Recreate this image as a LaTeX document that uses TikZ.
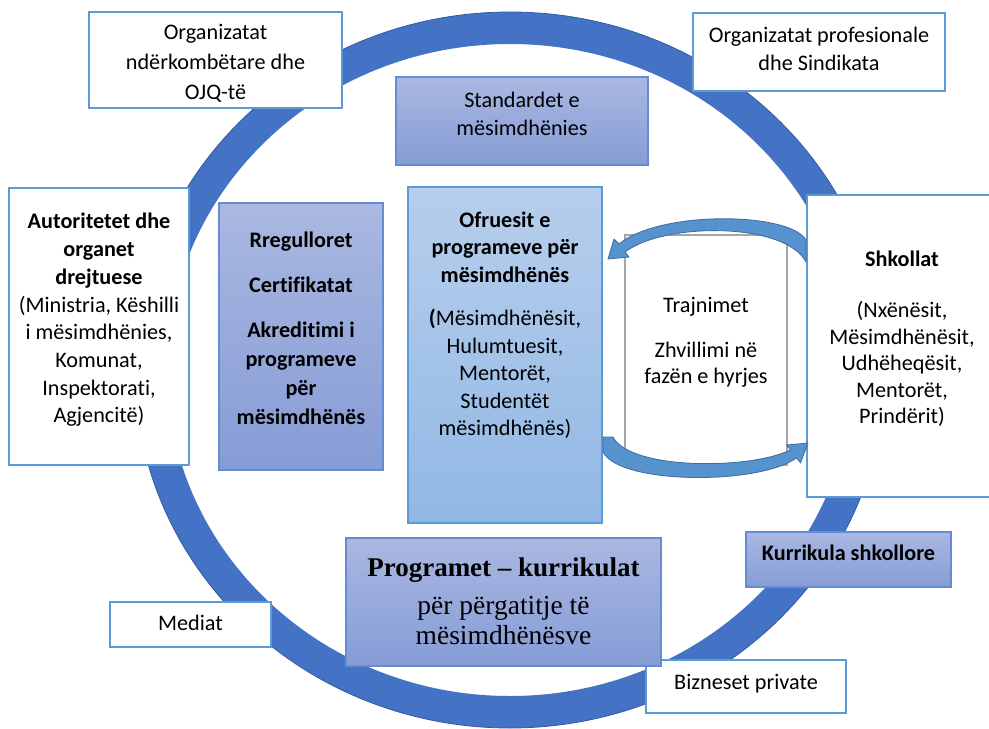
\documentclass[tikz,border=0pt]{standalone}
\usepackage{fontspec}
\setmainfont[Ligatures=NoCommon]{Carlito}
\newfontfamily\tnr{Liberation Serif}
\usetikzlibrary{calc}
\definecolor{ringblue}{RGB}{68,114,196}
\definecolor{ringdark}{RGB}{50,90,160}
\definecolor{edgeblue}{RGB}{91,155,213}
\definecolor{gradtop}{RGB}{170,184,225}
\definecolor{gradbot}{RGB}{134,156,214}
\definecolor{gradedge}{RGB}{100,140,210}
\definecolor{ltop}{RGB}{183,206,236}
\definecolor{lbot}{RGB}{145,184,229}
\definecolor{arrfill}{RGB}{86,146,205}
\definecolor{arredge}{RGB}{60,108,160}
\definecolor{grayedge}{RGB}{166,166,166}
\begin{document}
\begin{tikzpicture}[x=1pt,y=-1pt,
  whitebox/.style={rectangle, draw=edgeblue, line width=1.5pt, fill=white, inner sep=0pt},
  gradbox/.style={rectangle, draw=gradedge, line width=1.2pt, top color=gradtop, bottom color=gradbot, inner sep=0pt},
  lightbox/.style={rectangle, draw=edgeblue, line width=1.2pt, top color=ltop, bottom color=lbot, inner sep=0pt},
  graybox/.style={rectangle, draw=grayedge, line width=1.5pt, fill=white, inner sep=0pt},
  txt/.style={align=center, inner sep=0pt, font=\fontsize{22.2}{28}\selectfont},
  curvedarrow/.style={fill=arrfill, draw=arredge, line width=0.8pt, line join=round}
]
\useasboundingbox (0,0) rectangle (989,729);
\fill[white] (0,0) rectangle (989,729);

% ring
\draw[ringblue, line width=32pt] (510,370) ellipse [x radius=359pt, y radius=342pt];
\draw[ringdark, line width=0.8pt] (510,370) ellipse [x radius=375pt, y radius=358pt];

% boxes
\node[whitebox, minimum width=253pt, minimum height=96pt] (b1) at (215.5,60) {};
\node[whitebox, minimum width=252pt, minimum height=78pt] (b2) at (819,52) {};
\node[gradbox, minimum width=252pt, minimum height=88pt] (b3) at (522,121) {};
\node[whitebox, minimum width=180pt, minimum height=277pt] (b4) at (99,326.5) {};
\node[gradbox, minimum width=164pt, minimum height=267pt] (b5) at (301,336.5) {};
\node[lightbox, minimum width=194pt, minimum height=336pt] (b6) at (505,355) {};
\node[graybox, minimum width=162pt, minimum height=230pt] (b7) at (706,350) {};
\node[whitebox, minimum width=190pt, minimum height=302pt] (b8) at (902,346) {};
\node[gradbox, minimum width=205pt, minimum height=55pt] (b9) at (848.5,559.5) {};
\node[whitebox, minimum width=161pt, minimum height=45pt] (b10) at (190.5,624.5) {};
\node[whitebox, minimum width=200pt, minimum height=53pt] (b12) at (746,686.5) {};
\node[gradbox, minimum width=315pt, minimum height=128pt] (b11) at (503.5,602) {};

% curved arrows between the providers and the schools
\filldraw[curvedarrow] (806,240) .. controls (790,212) and (660,210) .. (619,244)
  -- (614,239) -- (608,259) -- (629,257) -- (625,252)
  .. controls (665,222) and (785,222) .. (806,262) -- cycle;
\filldraw[curvedarrow] (603,437) -- (603,452)
  .. controls (620,485) and (760,485) .. (796.6,457.8)
  -- (800.5,463) -- (808,443) -- (786.5,445) -- (790.6,449.8)
  .. controls (750,470) and (630,470) .. (613,437) -- cycle;

% texts
\node[txt, font=\fontsize{22.2}{30}\selectfont] (t1) at (215.5,63) {Organizatat\\ndërkombëtare dhe\\OJQ-të};
\node[txt] (t2) at (819,49) {Organizatat profesionale\\dhe Sindikata};
\node[txt] (t3) at (522,114) {Standardet e\\mësimdhënies};
\node[txt, font=\fontsize{22.2}{27.7}\selectfont] (t4) at (99,320) {\textbf{Autoritetet dhe}\\\textbf{organet}\\\textbf{drejtuese}\\(Ministria, Këshilli\\i mësimdhënies,\\Komunat,\\Inspektorati,\\Agjencitë)};
\node[txt, font=\bfseries\fontsize{22.2}{29}\selectfont] (t5) at (301,328.5) {Rregulloret\\[16pt]Certifikatat\\[16pt]Akreditimi i\\programeve\\për\\mësimdhënës};
\node[txt, font=\fontsize{22.2}{27.5}\selectfont] (t6) at (505,325) {\textbf{Ofruesit e}\\\textbf{programeve për}\\\textbf{mësimdhënës}\\[16pt]\textbf{(}Mësimdhënësit,\\Hulumtuesit,\\Mentorët,\\Studentët\\mësimdhënës)};
\node[txt, font=\fontsize{22.2}{26}\selectfont] (t7) at (706,342.5) {Trajnimet\\[19pt]Zhvillimi në\\fazën e hyrjes};
\node[txt, font=\fontsize{22.2}{26.5}\selectfont] (t8) at (902,338.5) {\textbf{Shkollat}\\[25pt](Nxënësit,\\Mësimdhënësit,\\Udhëheqësit,\\Mentorët,\\Prindërit)};
\node[txt, font=\bfseries\fontsize{22.2}{28}\selectfont] (t9) at (848.5,553) {Kurrikula shkollore};
\node[txt] (t10) at (190.5,623) {Mediat};
\node[txt] (t12) at (746,684) {Bizneset private};
\node[txt, font=\tnr\fontsize{27.5}{30}\selectfont] (t11) at (503.5,601) {{\fontsize{27}{30}\selectfont\textbf{Programet – kurrikulat}}\\[8pt]për përgatitje të\\mësimdhënësve};
\end{tikzpicture}
\end{document}
